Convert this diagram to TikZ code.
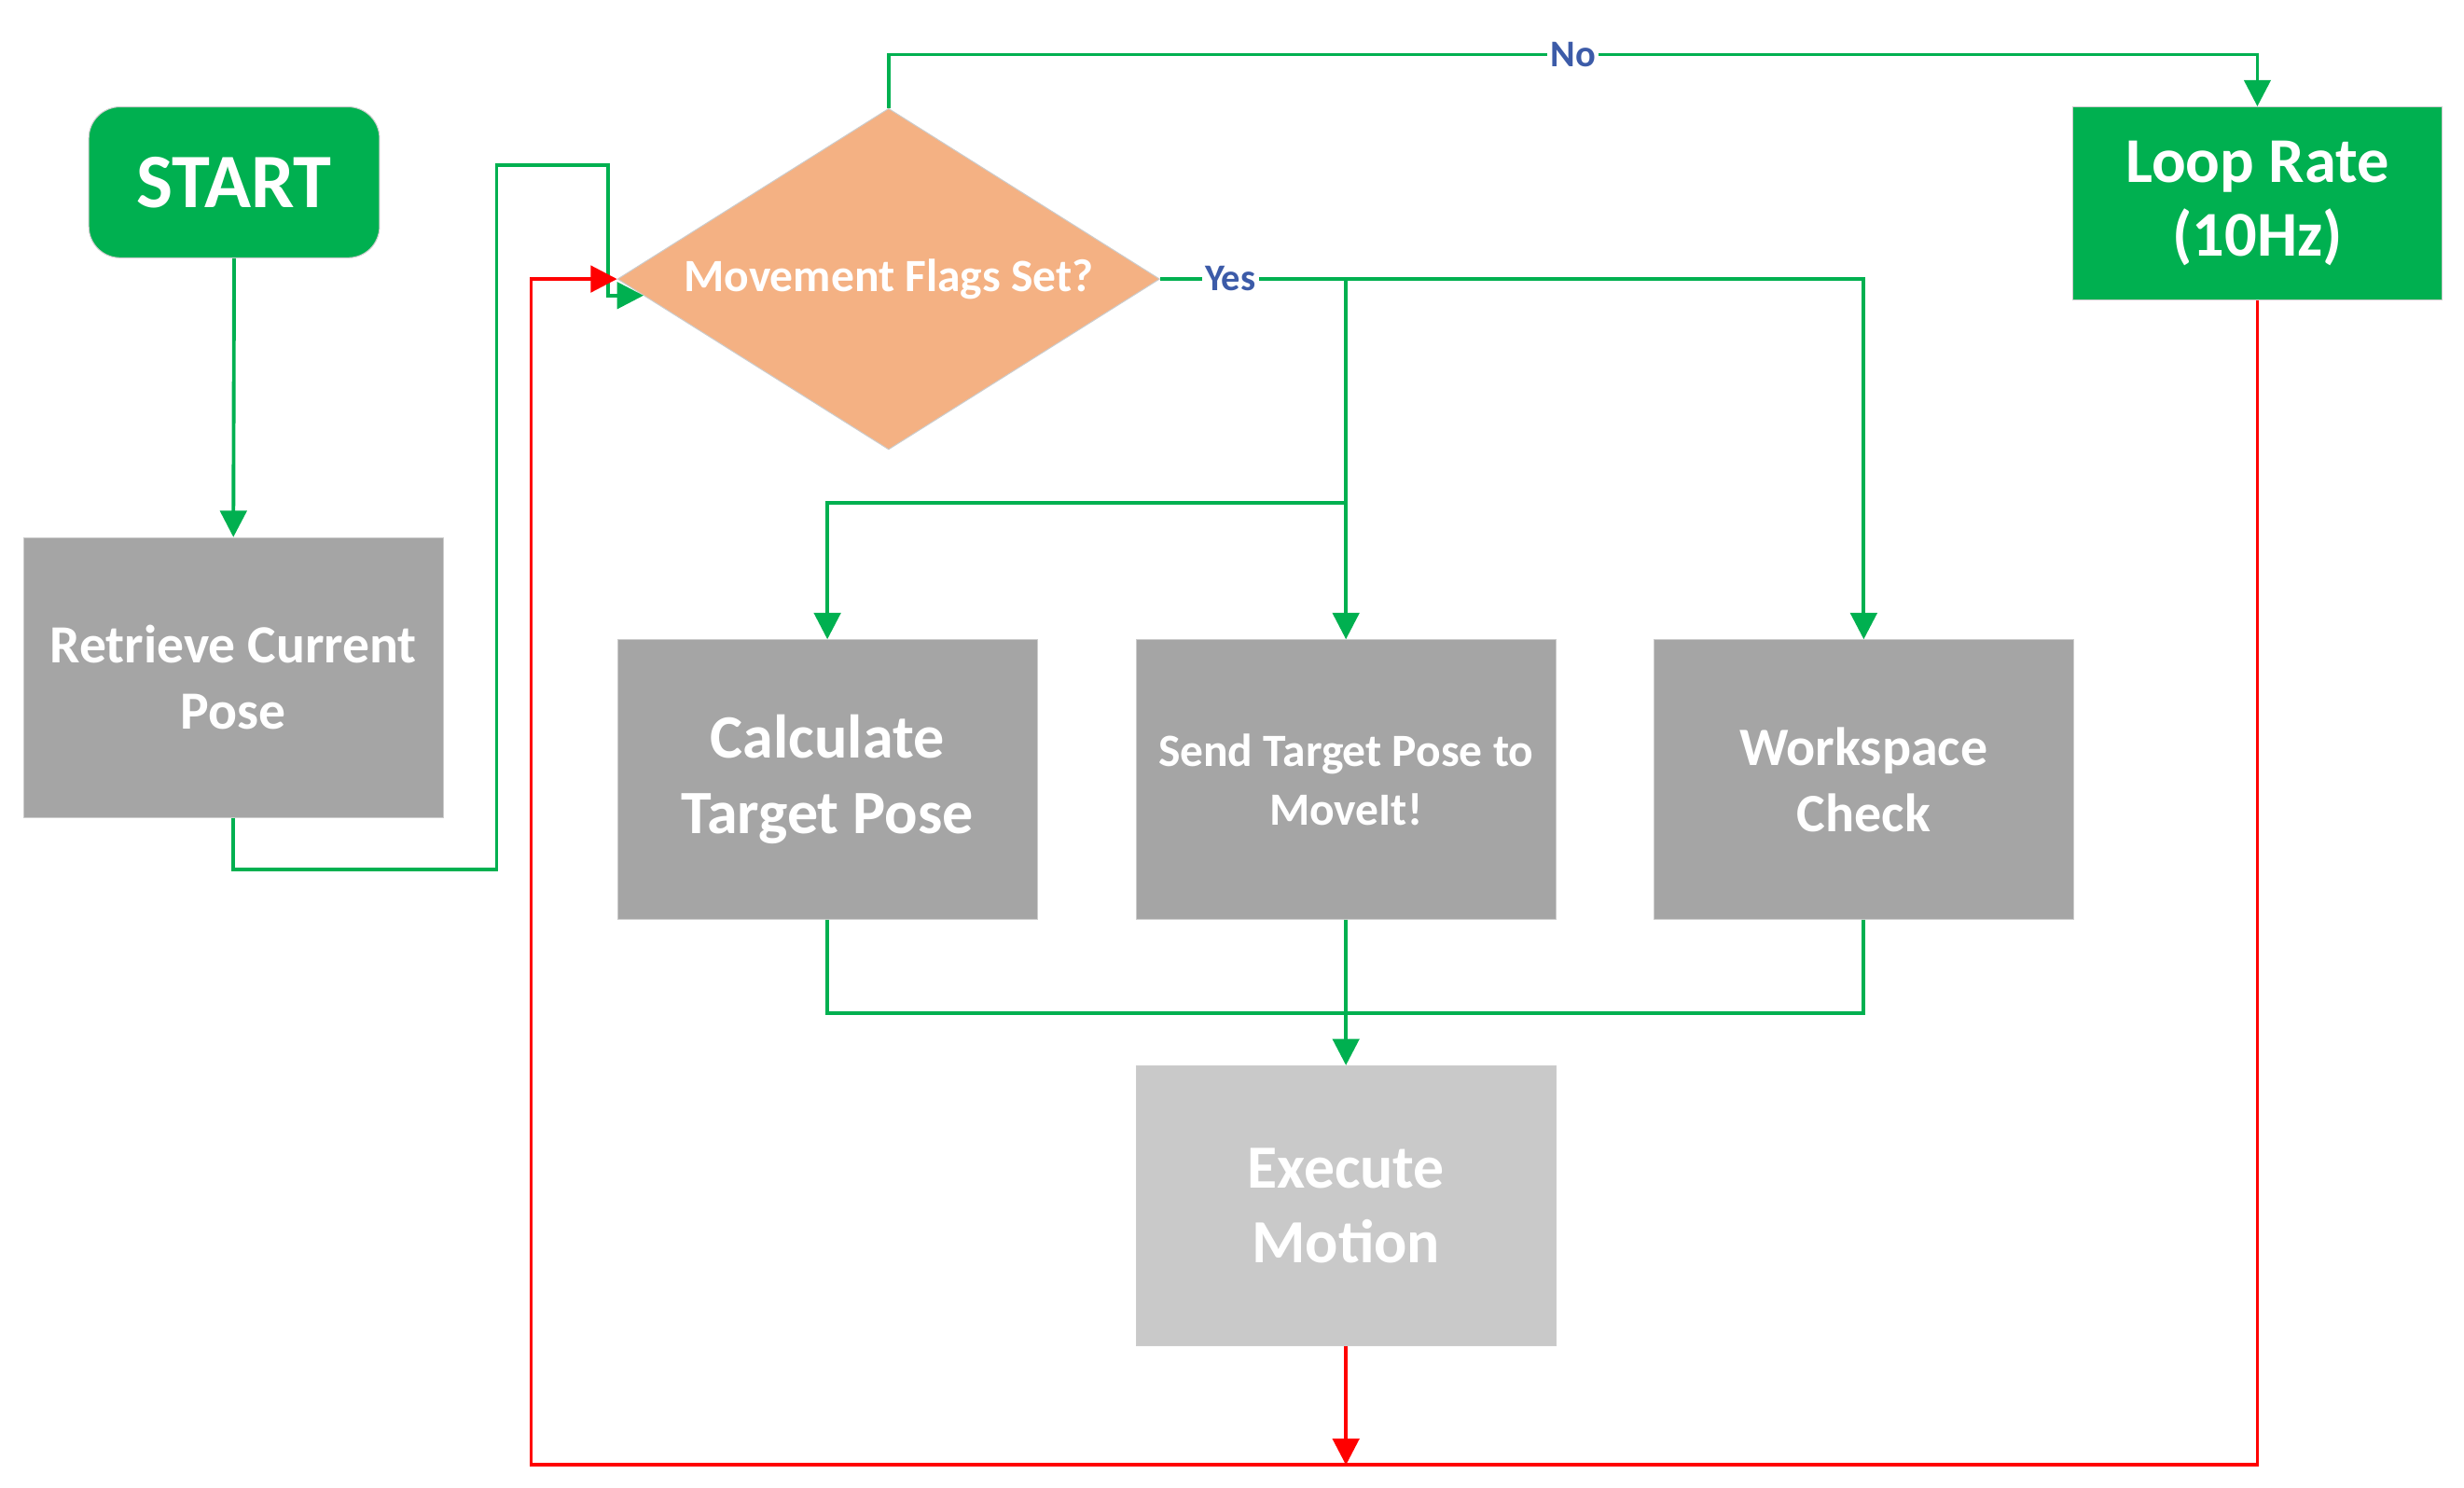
\documentclass[tikz,border=0pt]{standalone}
\usepackage{fontspec}
\setmainfont{Carlito}
\usetikzlibrary{shapes.geometric,arrows.meta}
\definecolor{cgreen}{HTML}{00B050}
\definecolor{corange}{HTML}{F4B183}
\definecolor{cgray}{HTML}{A5A5A5}
\definecolor{clight}{HTML}{C9C9C9}
\definecolor{cblue}{HTML}{3C5BA8}
\definecolor{cred}{HTML}{FF0000}
\definecolor{cedge}{HTML}{CCCCCC}
\begin{document}
\begin{tikzpicture}[x=0.5pt,y=-0.5pt,
  box/.style={rectangle, draw=cedge, line width=0.3pt, fill=cgray, text=white,
    align=center, minimum width=133.5pt, minimum height=89pt, inner sep=0pt},
  gline/.style={draw=cgreen, line width=1.15pt},
  rline/.style={draw=cred, line width=1.15pt},
  tip/.style={-{Triangle[length=8.4pt,width=8.4pt]}},
  lbl/.style={fill=white, text=cblue, font=\bfseries\fontsize{12}{14}\selectfont, inner sep=1pt}
]
\useasboundingbox (0,0) rectangle (1568,946.6);

% nodes
\node[rectangle, rounded corners=10pt, fill=cgreen, draw=cedge, line width=0.3pt,
  minimum width=92.5pt, minimum height=48pt, inner sep=0pt, text=white,
  font=\bfseries\fontsize{24.5}{28}\selectfont] (start) at (149,116) {START};
\node[box, font=\bfseries\fontsize{17.1}{21}\selectfont] (retr) at (148.5,431) {Retrieve Current\\Pose};
\node[diamond, aspect=1.59, fill=corange, draw=cedge, line width=0.3pt, inner sep=0pt,
  minimum width=172.5pt, minimum height=108.5pt, text=white,
  font=\bfseries\fontsize{14.7}{17}\selectfont] (dia) at (565.5,177.5) {Movement Flags Set?};
\node[box, fill=cgreen, minimum width=117.5pt, minimum height=61.5pt,
  font=\bfseries\fontsize{20.3}{23.5}\selectfont] (loop) at (1436.5,129.5) {Loop Rate\\(10Hz)};
\node[box, font=\bfseries\fontsize{19.6}{24}\selectfont] (calc) at (526.5,496) {Calculate\\Target Pose};
\node[box, font=\bfseries\fontsize{14.7}{18.5}\selectfont] (send) at (856.5,496) {Send Target Pose to\\MoveIt!};
\node[box, font=\bfseries\fontsize{17.2}{21}\selectfont] (work) at (1186,496) {Workspace\\Check};
\node[box, fill=clight, font=\bfseries\fontsize{19.5}{23.5}\selectfont] (exec) at (856.5,767) {Execute\\Motion};

% helper coordinates
\coordinate (gin) at (409.5,188);
\coordinate (br) at (856.5,320);
\coordinate (rb) at (1436.5,932);

% green connectors
\draw[gline,tip] (start.south) -- (retr.north);
\draw[gline,tip] (retr.south) -- (148.5,553) -- (316,553) -- (316,105) -- (387,105) -- (387,188) -- (gin);
\draw[gline,tip] (dia.north) -- ++(0,-34) -| (loop.north);
\draw[gline,tip] (dia.east) -| (work.north);
\draw[gline,tip] (dia.east) -| (send.north);
\draw[gline,tip] (br) -| (calc.north);
\draw[gline] (calc.south) -- ++(0,59) -| (work.south);
\draw[gline,tip] (send.south) -- (exec.north);

% red connectors
\draw[rline,tip] (loop.south) -- (rb) -| (338,177.5) -- (dia.west);
\draw[rline,tip] (exec.south) -- (exec.south |- rb);

% labels
\node[lbl] (no) at (1001,35) {No};
\node[lbl] (yes) at (783,177) {Yes};
\end{tikzpicture}
\end{document}
